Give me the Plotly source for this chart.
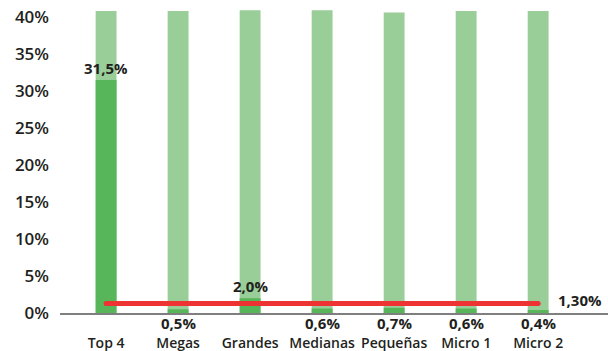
import plotly.graph_objects as go

categories = ["Top 4", "Megas", "Grandes", "Medianas", "Pequeñas", "Micro 1", "Micro 2"]
background_values = [40.8, 40.8, 40.9, 40.9, 40.6, 40.8, 40.8]
share_values = [31.5, 0.5, 2.0, 0.6, 0.7, 0.6, 0.4]
share_labels = ["31,5%", "0,5%", "2,0%", "0,6%", "0,7%", "0,6%", "0,4%"]
reference_value = 1.3
reference_label = "1,30%"
y_ticks = [0, 5, 10, 15, 20, 25, 30, 35, 40]
y_tick_labels = ["0%", "5%", "10%", "15%", "20%", "25%", "30%", "35%", "40%"]

FONT = "Open Sans"
TXT = "#231f20"

fig = go.Figure()
fig.add_trace(go.Bar(x=categories, y=background_values, marker_color="#99ce98",
                     marker_line_width=0, width=0.29, hoverinfo="skip"))
fig.add_trace(go.Bar(x=categories, y=share_values, marker_color="#57b65a",
                     marker_line_width=0, width=0.29))
fig.add_trace(go.Scatter(x=categories, y=[reference_value] * len(categories),
                         mode="lines", line=dict(color="#ee3333", width=5)))
fig.add_trace(go.Scatter(x=[categories[0], categories[-1]], y=[reference_value] * 2,
                         mode="markers", marker=dict(color="#ee3333", size=5)))

for i, (c, v, t) in enumerate(zip(categories, share_values, share_labels)):
    if v > 1.5:
        fig.add_annotation(x=c, y=v, text=t, showarrow=False, yanchor="middle",
                           yshift=12, font=dict(family=FONT, size=15, color=TXT, weight="bold"))
    else:
        fig.add_annotation(x=c, y=0, text=t, showarrow=False, yanchor="middle",
                           yshift=-10, font=dict(family=FONT, size=15, color=TXT, weight="bold"))

fig.add_annotation(x=6.58, y=reference_value, text=reference_label, showarrow=False,
                   yanchor="middle", yshift=3,
                   font=dict(family=FONT, size=15, color=TXT, weight="bold"))

fig.update_layout(
    width=608, height=351,
    margin=dict(l=60, r=0, t=2, b=38, autoexpand=False),
    barmode="overlay",
    showlegend=False,
    plot_bgcolor="white", paper_bgcolor="white",
    xaxis=dict(range=[-0.64, 6.97], showline=True, linewidth=2, linecolor="#7f7f7f",
               showgrid=False, ticks="", ticklabelstandoff=16, automargin=False,
               tickfont=dict(family=FONT, size=14, color=TXT, weight=600)),
    yaxis=dict(range=[0, 42.03], tickvals=y_ticks, ticktext=y_tick_labels, showgrid=False,
               zeroline=False, showline=False, ticks="", ticklabelstandoff=10,
               automargin=False,
               tickfont=dict(family=FONT, size=17, color=TXT, weight=600)),
)

fig.write_html("out.html", config={"displayModeBar": False},
               post_script="document.body.style.margin='0';document.body.style.padding='0';")
